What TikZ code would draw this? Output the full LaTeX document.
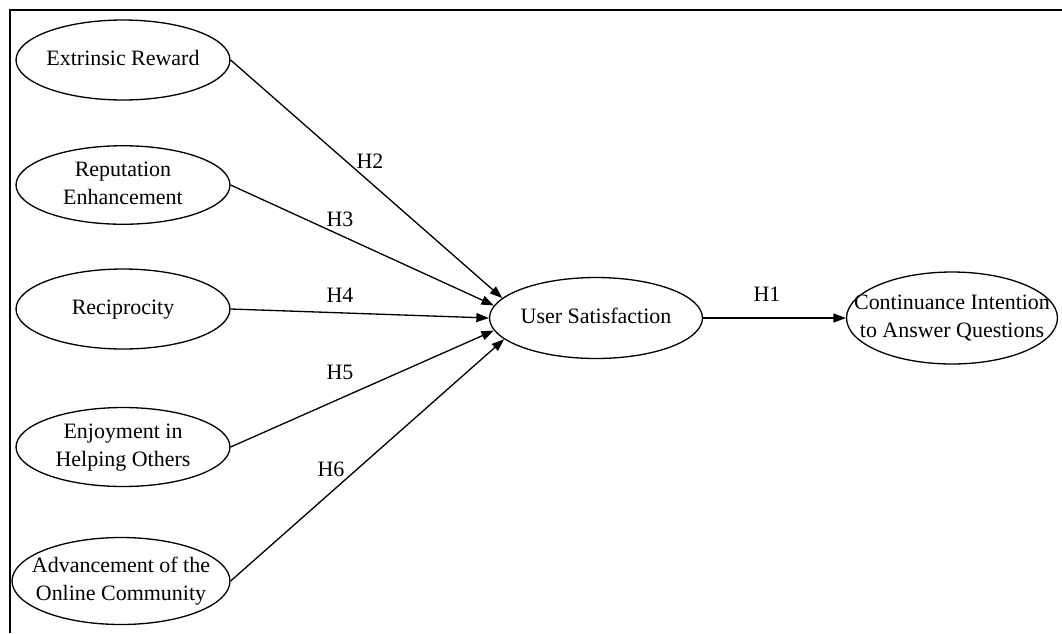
\documentclass[tikz,border=0pt]{standalone}
\usepackage{fontspec}
\setmainfont{Liberation Serif}
\usetikzlibrary{shapes.geometric,arrows.meta}
\newcommand\ztxt[1]{\makebox[0pt]{\begin{tabular}{@{}c@{}}#1\end{tabular}}}
\begin{document}
\begin{tikzpicture}[x=0.02cm,y=-0.02cm,
  oval/.style={draw, ellipse, line width=0.75pt, minimum width=4.28cm, minimum height=1.6cm, inner sep=0pt,
    font=\fontsize{12.5}{15.8}\selectfont},
  conn/.style={line width=0.75pt, -{Triangle[length=0.25cm,width=0.18cm]}},
  lbl/.style={font=\fontsize{12.5}{15}\selectfont, inner sep=0pt}]
\useasboundingbox (0,0) rectangle (1062,633);
\fill[white] (0,0) rectangle (1062,633);
\draw[line width=1.3pt] (10,633) -- (10,10) -- (1062,10);

\node[oval] (er) at (123,60) {\ztxt{Extrinsic Reward}};
\node[oval, minimum height=1.54cm] (re) at (123,185) {\ztxt{Reputation\\Enhancement}};
\node[oval] (rc) at (123,309) {\ztxt{Reciprocity}};
\node[oval, minimum height=1.58cm] (en) at (123,447) {\ztxt{Enjoyment in\\Helping Others}};
\node[oval, minimum width=4.36cm, minimum height=1.74cm] (ad) at (121,581) {\ztxt{Advancement of the\\Online Community}};
\node[oval, minimum width=4.26cm, minimum height=1.62cm] (us) at (596,318) {\ztxt{User Satisfaction}};
\node[oval, minimum width=4.22cm, minimum height=1.84cm] (ci) at (952,318) {\ztxt{Continuance Intention\\to Answer Questions}};

\draw[conn] (er.east) -- (us.168.5);
\draw[conn] (re.east) -- (us.173.7);
\draw[conn] (rc.east) -- (us.180.5);
\draw[conn] (en.east) -- (us.187);
\draw[conn] (ad.east) -- (us.193);
\draw[conn] (us) -- (ci);

\node[lbl] (h2) at (370,161) {H2};
\node[lbl] (h3) at (340,219) {H3};
\node[lbl] (h4) at (340,295) {H4};
\node[lbl] (h5) at (340,372) {H5};
\node[lbl] (h6) at (331,469) {H6};
\node[lbl] (h1) at (767,294) {H1};
\end{tikzpicture}
\end{document}
